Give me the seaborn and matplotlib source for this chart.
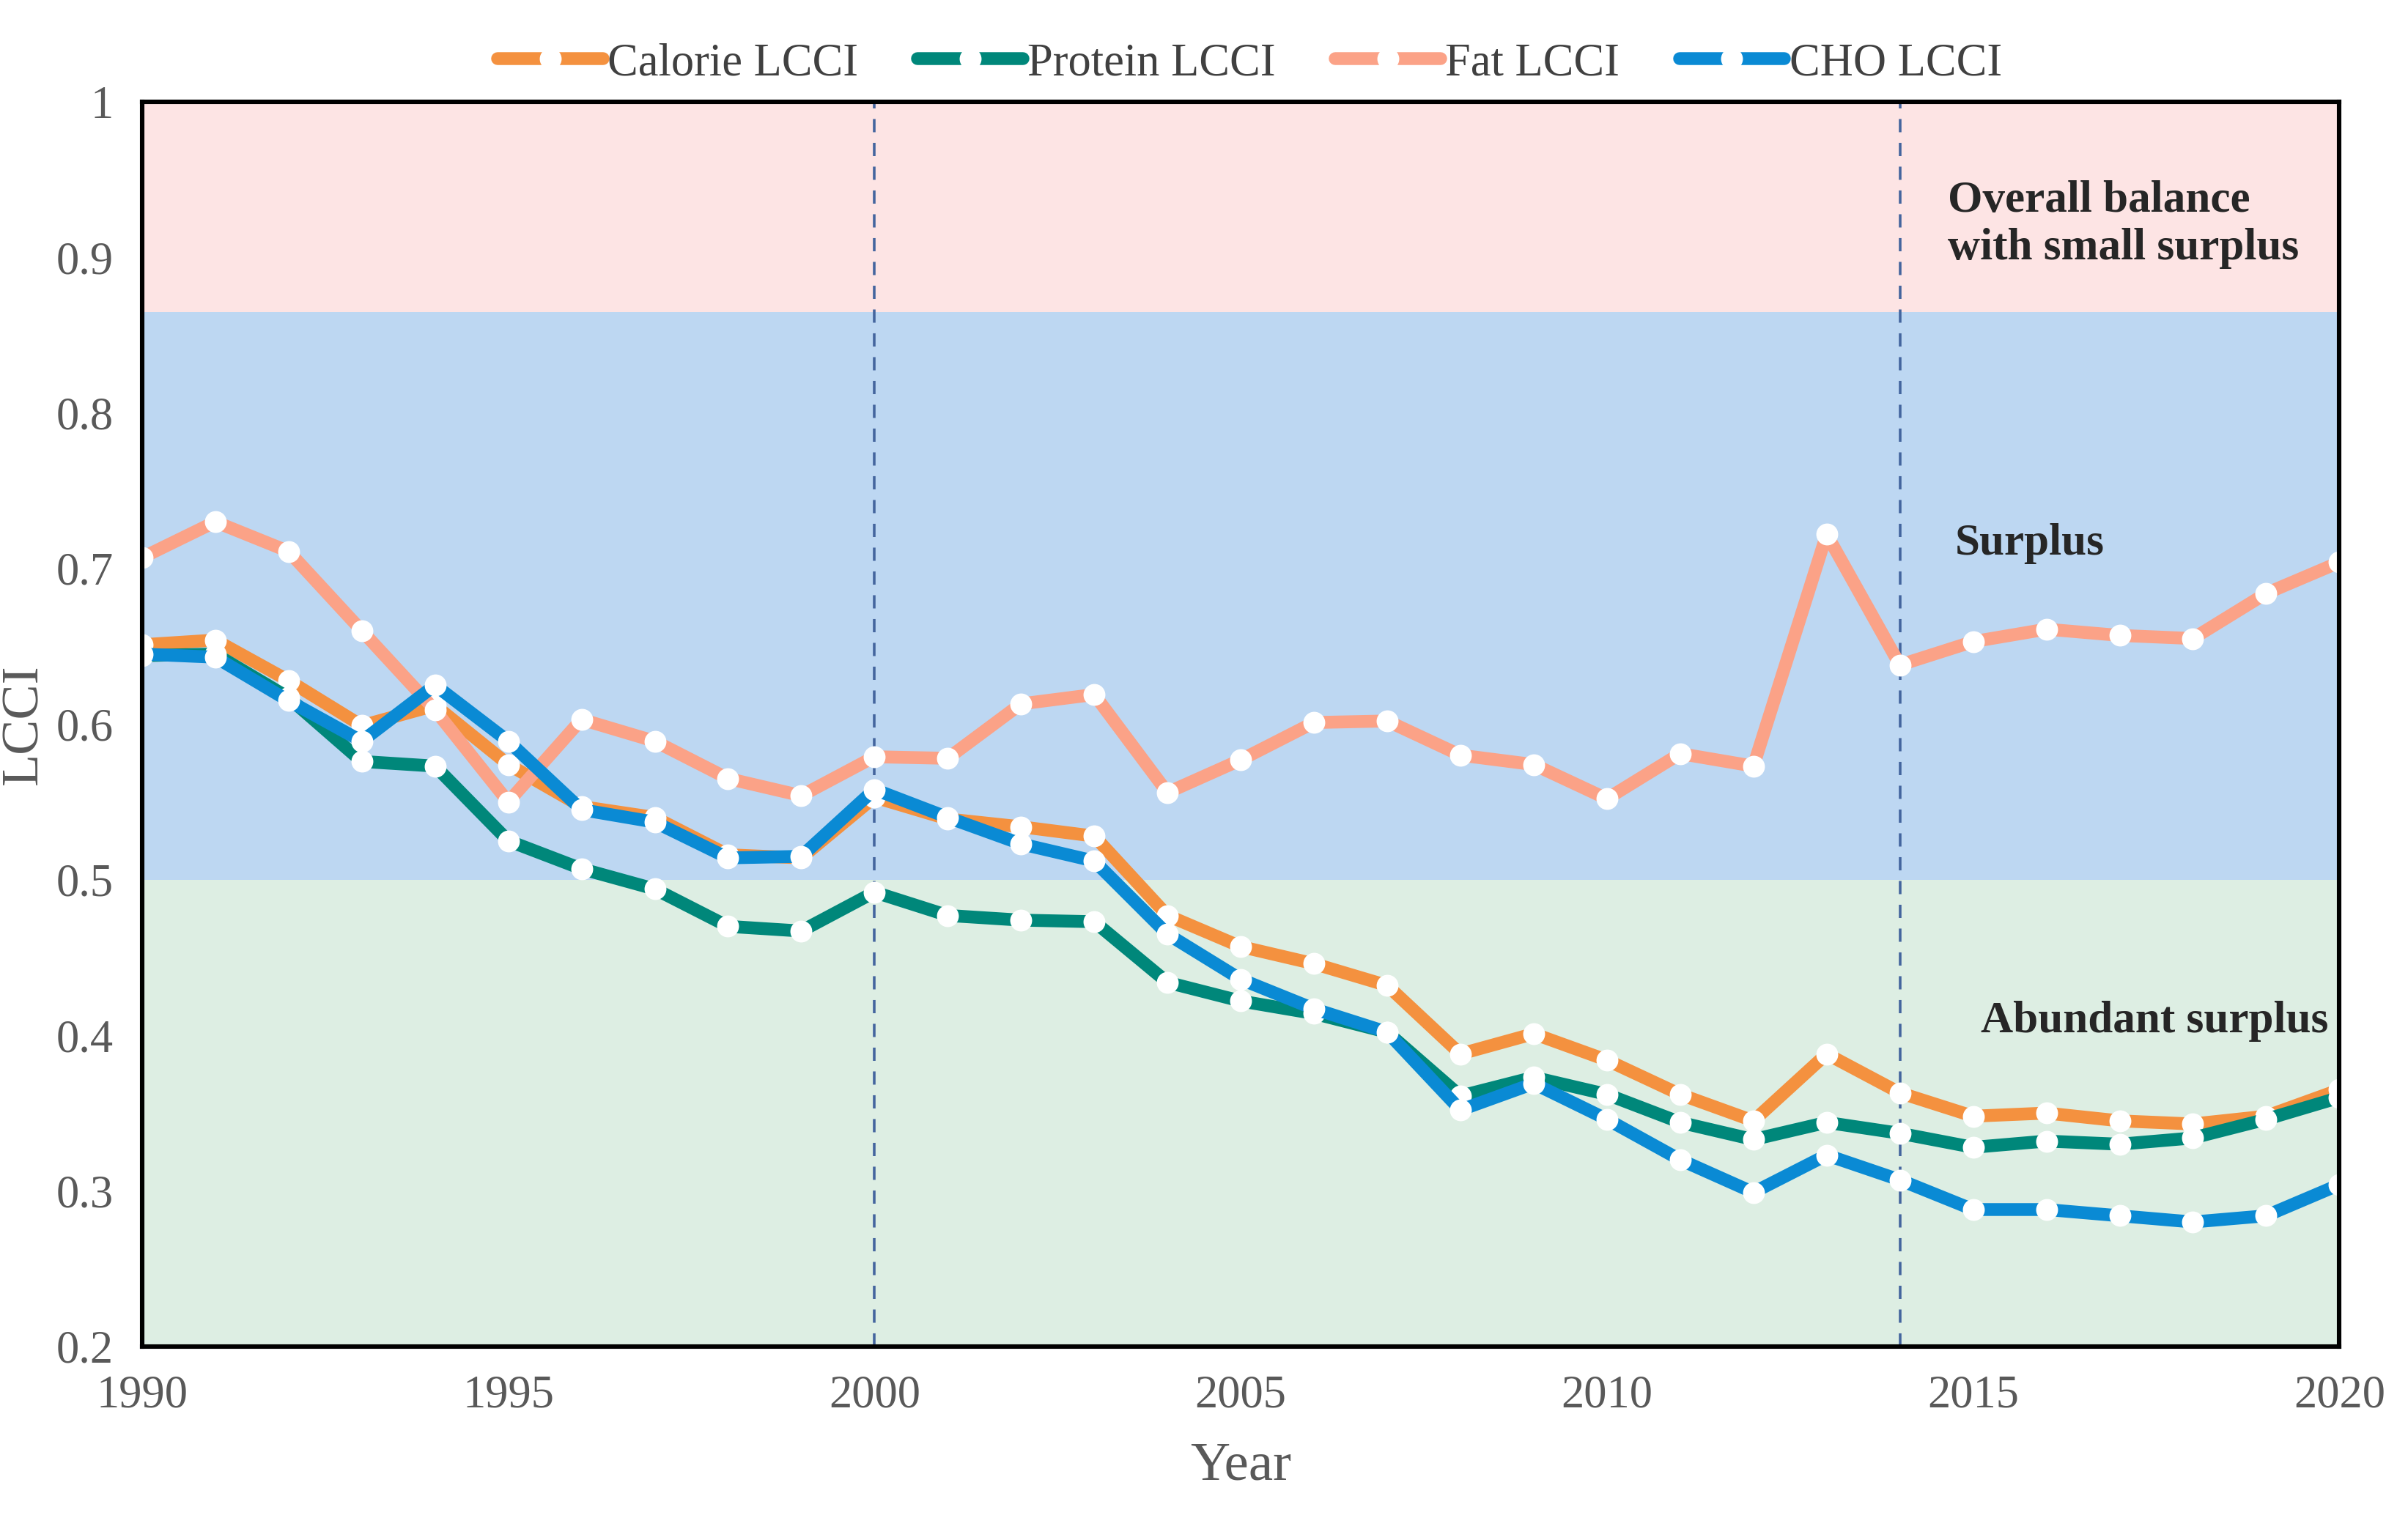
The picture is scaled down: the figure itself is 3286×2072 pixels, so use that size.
import matplotlib
matplotlib.use('Agg')
import matplotlib.pyplot as plt
import seaborn as sns
import pandas as pd

# values
years = list(range(1990, 2021))
calorie = [0.651, 0.654, 0.628, 0.599, 0.612, 0.574, 0.547, 0.540, 0.516, 0.514,
           0.553, 0.539, 0.534, 0.528, 0.477, 0.457, 0.446, 0.432, 0.388, 0.401,
           0.384, 0.362, 0.345, 0.388, 0.363, 0.348, 0.350, 0.345, 0.343, 0.348, 0.365]
protein = [0.644, 0.645, 0.617, 0.576, 0.573, 0.525, 0.507, 0.494, 0.470, 0.467,
           0.492, 0.477, 0.474, 0.473, 0.434, 0.422, 0.414, 0.402, 0.361, 0.373,
           0.362, 0.344, 0.333, 0.344, 0.337, 0.328, 0.332, 0.330, 0.334, 0.346, 0.360]
fat = [0.707, 0.730, 0.711, 0.660, 0.609, 0.550, 0.603, 0.589, 0.565, 0.554,
       0.579, 0.578, 0.613, 0.619, 0.556, 0.577, 0.601, 0.602, 0.580, 0.574,
       0.552, 0.581, 0.573, 0.722, 0.638, 0.653, 0.661, 0.657, 0.655, 0.684, 0.704]
cho = [0.645, 0.643, 0.615, 0.589, 0.625, 0.589, 0.545, 0.537, 0.514, 0.515,
       0.558, 0.540, 0.523, 0.512, 0.465, 0.436, 0.417, 0.402, 0.352, 0.369,
       0.346, 0.320, 0.299, 0.323, 0.307, 0.288, 0.288, 0.284, 0.280, 0.284, 0.304]

series_names = ['Calorie LCCI', 'Protein LCCI', 'Fat LCCI', 'CHO LCCI']
series_colors = ['#F4913F', '#00877A', '#FBA287', '#0A8AD4']

zones = [(0.865, 1.0, '#FDE4E4'), (0.5, 0.865, '#BDD7F2'), (0.2, 0.5, '#DDEEE3')]
zone_labels = ['Overall balance\nwith small surplus', 'Surplus', 'Abundant surplus']
split_years = [2000, 2014]

df = pd.DataFrame({'Year': years, 'Calorie LCCI': calorie, 'Protein LCCI': protein,
                   'Fat LCCI': fat, 'CHO LCCI': cho})

sns.set_style('white')
plt.rcParams['font.family'] = ['Liberation Serif', 'DejaVu Serif']

fig = plt.figure(figsize=(16.43, 10.36), dpi=200)
ax = fig.add_axes([0.059, 0.113, 0.9125, 0.82])

# background zones
for lo, hi, c in zones:
    ax.axhspan(lo, hi, color=c, lw=0, zorder=0)

for x in split_years:
    ax.axvline(x, color='#44659E', lw=1.3, ls=(0, (5, 4)), zorder=1)

for name, col in zip(series_names, series_colors):
    sns.lineplot(data=df, x='Year', y=name, ax=ax, color=col, lw=6.3,
                 marker='o', markersize=10, markerfacecolor='white',
                 markeredgecolor='white', label=name, clip_on=False, zorder=3)

ax.set_xlim(1990, 2020)
ax.set_ylim(0.2, 1.0)
ax.set_xticks(range(1990, 2021, 5))
ax.set_xticks(range(1990, 2021), minor=True)
ax.set_yticks([0.2, 0.3, 0.4, 0.5, 0.6, 0.7, 0.8, 0.9, 1.0])
ax.set_yticklabels(['0.2', '0.3', '0.4', '0.5', '0.6', '0.7', '0.8', '0.9', '1'])
ax.tick_params(axis='both', which='both', direction='in', colors='black',
               labelcolor='#595959', labelsize=22.5)
ax.tick_params(axis='x', which='major', length=0, pad=14)
ax.tick_params(axis='x', which='minor', length=7, width=1.2)
ax.tick_params(axis='y', which='major', length=7, width=1.2, pad=14)

for s in ax.spines.values():
    s.set_visible(True)
    s.set_color('black')
    s.set_linewidth(2.2)
    s.set_zorder(4)

ax.set_xlabel('Year', fontsize=27, color='#595959', labelpad=12)
ax.set_ylabel('LCCI', fontsize=26, color='#595959', labelpad=4)

# zone labels
ax.text(2014.65, 0.921, zone_labels[0], fontsize=22, fontweight='bold',
        ha='left', va='center', linespacing=1.2)
ax.text(2014.75, 0.716, zone_labels[1], fontsize=22, fontweight='bold',
        ha='left', va='center')
ax.text(2015.1, 0.409, zone_labels[2], fontsize=22, fontweight='bold',
        ha='left', va='center')

ax.legend(loc='center', bbox_to_anchor=(0.519, 0.958), bbox_transform=fig.transFigure,
          ncol=4, frameon=False, fontsize=22.5, handlelength=2.3, handletextpad=0.1,
          columnspacing=1.3, labelcolor='#404040')

fig.savefig('out.png', dpi=200)
